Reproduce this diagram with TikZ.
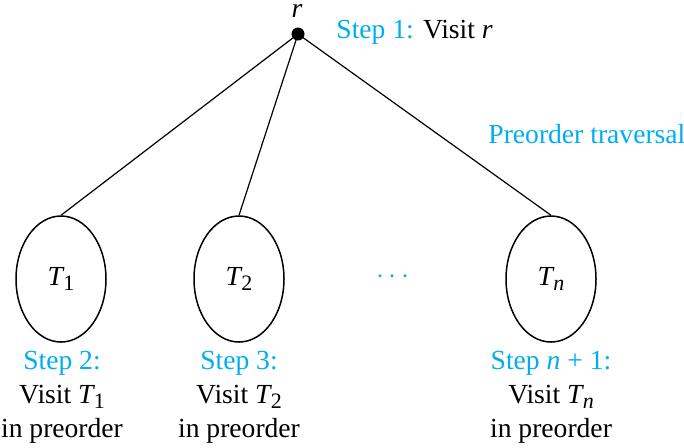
\documentclass[tikz,border=0pt]{standalone}
\usepackage{fontspec}
\setmainfont{Liberation Serif}
\usetikzlibrary{shapes.geometric,positioning}
\definecolor{stepblue}{RGB}{0,174,239}
\newcommand{\Tsub}[1]{\textit{T}\kern-0.05em\raisebox{-0.4ex}{\fontsize{11}{11}\selectfont #1}}
\tikzset{
  subtree/.style={draw,ellipse,line width=0.75pt,minimum width=45pt,minimum height=63pt,inner sep=0pt},
  steplabel/.style={align=center,anchor=north,inner sep=0pt},
  edge/.style={line width=0.6pt}
}
\begin{document}
\begin{tikzpicture}[x=0.5pt,y=-0.5pt,every node/.style={font=\fontsize{13.8}{17}\selectfont}]
\useasboundingbox (0,0) rectangle (684,447);
%\draw [help lines] (0,0) grid (684,447);
\node[circle,fill,inner sep=0pt,minimum size=6.5pt] (r) at (298,34) {};
\node[anchor=base,inner sep=0pt] (rname) at (297,17) {\textit{r}};
\node[anchor=base west,inner sep=0pt] (step1) at (336,38) {\textcolor{stepblue}{Step 1:} Visit \textit{r}};
\node[anchor=base west,inner sep=0pt,text=stepblue] (pre) at (488,143) {Preorder traversal};
% subtrees
\node[subtree] (T1) at (61,279) {\Tsub{1}};
\node[subtree] (T2) at (239,279) {\Tsub{2}};
\node[subtree] (Tn) at (551,279) {\Tsub{\textit{n}}};
\node[text=stepblue] (dots) at (393,277) {$\cdots$};
\draw[edge] (r.center) -- (T1.north);
\draw[edge] (r.center) -- (T2.north);
\draw[edge] (r.center) -- (Tn.north);
% steps below
\node[steplabel] (s2) at (62,351) {\textcolor{stepblue}{Step 2:}\\ Visit \Tsub{1}\\ in preorder};
\node[steplabel] (s3) at (239,351) {\textcolor{stepblue}{Step 3:}\\ Visit \Tsub{2}\\ in preorder};
\node[steplabel] (sn) at (551,351) {\textcolor{stepblue}{Step \textit{n} + 1:}\\ Visit \Tsub{\textit{n}}\\ in preorder};
\end{tikzpicture}
\end{document}
